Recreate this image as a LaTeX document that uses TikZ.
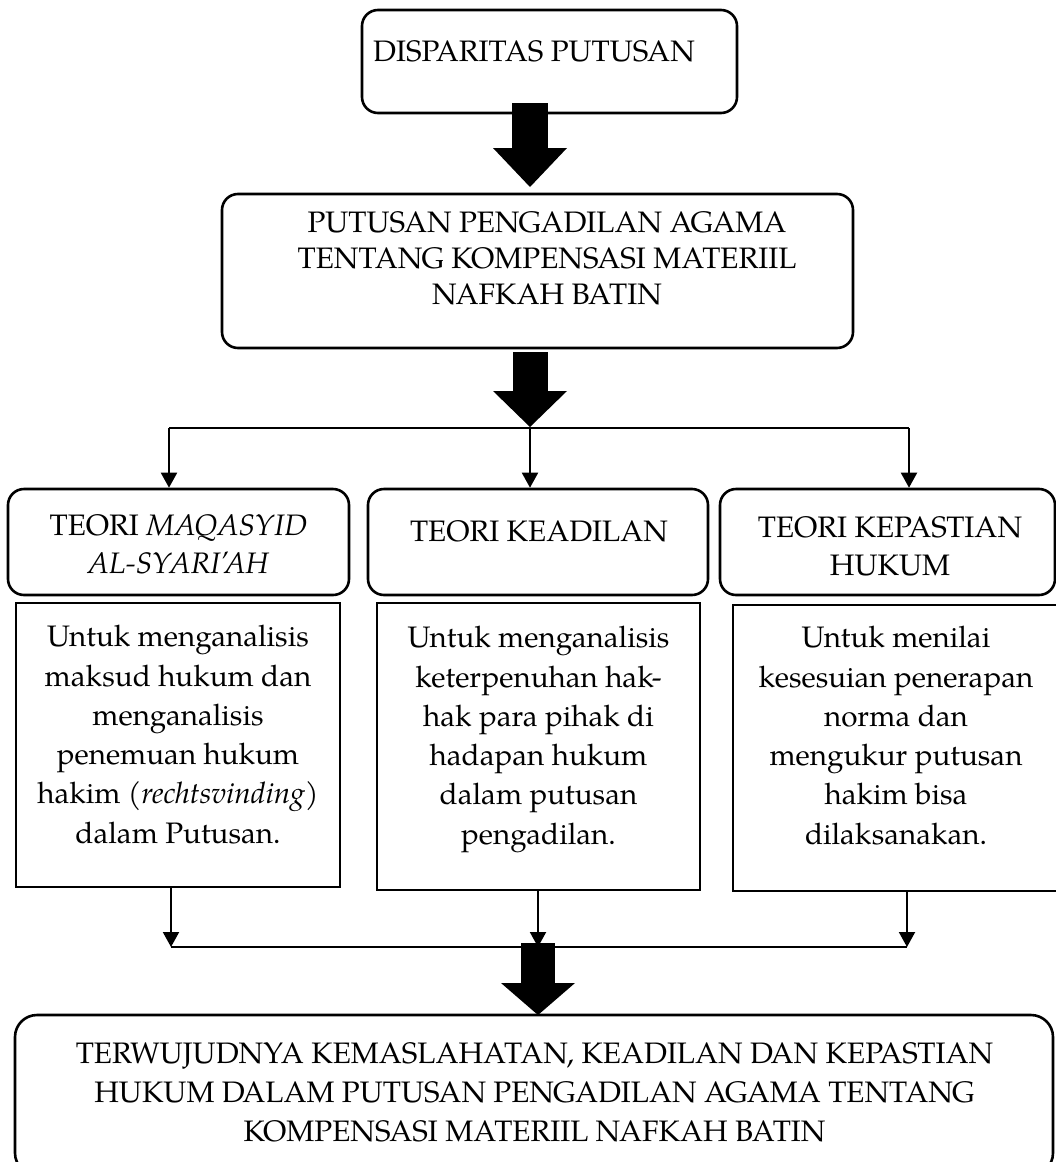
\documentclass[tikz,border=0pt]{standalone}
\usepackage{fontspec}
\setmainfont{texgyrepagella}[Extension=.otf,UprightFont=*-regular,ItalicFont=*-italic,BoldFont=*-bold,BoldItalicFont=*-bolditalic]
\usetikzlibrary{arrows.meta}
\begin{document}
\begin{tikzpicture}[x=1pt,y=-1pt,
  rbox/.style={draw,line width=2.6pt,rounded corners=16pt,inner sep=0pt},
  sbox/.style={draw,line width=2.6pt,inner sep=0pt},
  txt/.style={align=center,inner sep=0pt,anchor=north,font=\fontsize{29.6}{39.3}\selectfont},
  thinarr/.style={line width=2pt,-{Triangle[length=15pt,width=16pt]}},
  bigarr/.style={-{Triangle[length=#1,width=74pt,line width=0pt]}},
  joinline/.style={line width=2.6pt}]
\clip (0,0) rectangle (1056,1162);
\fill[white] (0,0) rectangle (1056,1162);

% boxes
\node[rbox,minimum width=375pt,minimum height=103pt] (b1) at (549.5,61.5) {};
\node[txt] (b1t) at (534,40) {DISPARITAS PUTUSAN};

\node[rbox,minimum width=631pt,minimum height=154pt] (b2) at (537.5,271) {};
\node[txt,font=\fontsize{29.6}{36}\selectfont] (b2t) at (547,211) {PUTUSAN PENGADILAN AGAMA\\TENTANG KOMPENSASI MATERIIL\\NAFKAH BATIN};

\node[rbox,minimum width=341pt,minimum height=106pt] (t1) at (178.5,542) {};
\node[txt,font=\fontsize{29.6}{38}\selectfont] (t1t) at (178.5,514) {TEORI \textit{MAQASYID}\\\textit{AL-SYARI’AH}};
\node[rbox,minimum width=340pt,minimum height=106pt] (t2) at (538,542) {};
\node[txt] (t2t) at (539,520) {TEORI KEADILAN};
\node[rbox,minimum width=335pt,minimum height=106pt] (t3) at (887.5,542) {};
\node[txt,font=\fontsize{29.6}{38}\selectfont] (t3t) at (890,516) {TEORI KEPASTIAN\\HUKUM};

\node[sbox,minimum width=324pt,minimum height=284pt] (d1) at (178,745) {};
\node[txt] (d1t) at (178,625) {Untuk menganalisis\\maksud hukum dan\\menganalisis\\penemuan hukum\\hakim (\textit{rechtsvinding})\\dalam Putusan.};
\node[sbox,minimum width=323pt,minimum height=287pt] (d2) at (538.5,746.5) {};
\node[txt] (d2t) at (538.5,626) {Untuk menganalisis\\keterpenuhan hak-\\hak para pihak di\\hadapan hukum\\dalam putusan\\pengadilan.};
\node[sbox,minimum width=326pt,minimum height=286pt] (d3) at (896,748) {};
\node[txt] (d3t) at (896,626) {Untuk menilai\\kesesuian penerapan\\norma dan\\mengukur putusan\\hakim bisa\\dilaksanakan.};

\node[rbox,rounded corners=22pt,minimum width=1038pt,minimum height=160pt] (b3) at (534,1095) {};
\node[txt,font=\fontsize{29.6}{39}\selectfont] (b3t) at (534.5,1042) {TERWUJUDNYA KEMASLAHATAN, KEADILAN DAN KEPASTIAN\\HUKUM DALAM PUTUSAN PENGADILAN AGAMA TENTANG\\KOMPENSASI MATERIIL NAFKAH BATIN};

% branch connectors
\coordinate (bl) at (169,428);
\coordinate (bc) at (530,428);
\coordinate (br) at (909,428);
\draw[joinline] (bl) -- (br);
\draw[thinarr] (bl) -- (bl |- t1.north);
\draw[thinarr] (bc) -- (bc |- t2.north);
\draw[thinarr] (br) -- (br |- t3.north);

% join connectors
\coordinate (jl) at (171,947);
\coordinate (jc) at (538,947);
\coordinate (jr) at (907,947);
\draw[joinline] (jl) -- (jr);
\draw[thinarr] (jl |- d1.south) -- (jl);
\draw[thinarr] (jc |- d2.south) -- (jc);
\draw[thinarr] (jr |- d3.south) -- (jr);

% big arrows
\coordinate (a1s) at (530,103);
\coordinate (a1e) at (530,187);
\draw[bigarr=39pt,line width=36pt] (a1s) -- (a1e);
\coordinate (a2s) at (530,352);
\coordinate (a2e) at (530,427);
\draw[bigarr=36pt,line width=35pt] (a2s) -- (a2e);
\coordinate (a3s) at (538,943);
\coordinate (a3e) at (538,1015);
\draw[bigarr=32pt,line width=34pt] (a3s) -- (a3e);
\end{tikzpicture}
\end{document}
